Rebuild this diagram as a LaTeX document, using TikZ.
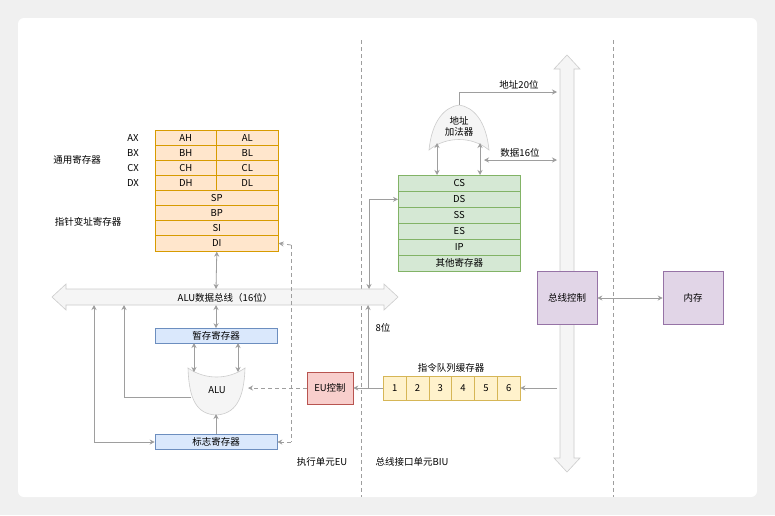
\documentclass[tikz,border=0pt]{standalone}
\usepackage{fontspec}
\setmainfont{Noto Sans CJK SC}
\usetikzlibrary{arrows.meta}
\definecolor{ln}{HTML}{9E9E9E}
\definecolor{orf}{HTML}{FFE6CC}\definecolor{ors}{HTML}{D79B00}
\definecolor{grf}{HTML}{D5E8D4}\definecolor{grs}{HTML}{82B366}
\definecolor{blf}{HTML}{DAE8FC}\definecolor{bls}{HTML}{6C8EBF}
\definecolor{puf}{HTML}{E1D5E7}\definecolor{pus}{HTML}{9673A6}
\definecolor{ref}{HTML}{F8CECC}\definecolor{res}{HTML}{B85450}
\definecolor{yef}{HTML}{FFF2CC}\definecolor{yes}{HTML}{D6B656}
\definecolor{shf}{HTML}{F5F5F5}\definecolor{shs}{HTML}{CCCCCC}
\tikzset{
 conn/.style={draw=ln,line width=0.8pt,-{Stealth[length=5pt,width=5pt]}},
 bi/.style={conn,{Stealth[length=5pt,width=5pt]}-{Stealth[length=5pt,width=5pt]}},
 dconn/.style={conn,dashed,dash pattern=on 4pt off 3pt},
 lbl/.style={font=\fontsize{9.5}{11}\selectfont,inner sep=0pt},
 reg/.style={draw=#1,line width=0.6pt,minimum height=0pt,inner sep=0pt,font=\fontsize{9.5}{11}\selectfont},
}
\begin{document}
\begin{tikzpicture}[x=1pt,y=-1pt]
\fill[black!6] (0,0) rectangle (775,515);
\useasboundingbox (0,0) rectangle (775,515);
\fill[white,rounded corners=6pt] (18,18) rectangle (757,497);
% dividers
\draw[ln,dashed,dash pattern=on 4pt off 3pt,line width=0.7pt] (361,40)--(361,497);
\draw[ln,dashed,dash pattern=on 4pt off 3pt,line width=0.7pt] (613,40)--(613,497);
% bus arrows
\draw[shs,fill=shf,line width=0.6pt] (52,297)--(66,284)--(66,289)--(384,289)--(384,284)--(398,297)--(384,310)--(384,305)--(66,305)--(66,310)--cycle;
\node[lbl] (bus) at (225,298) {ALU数据总线（16位）};
\coordinate (busT) at (216,289);
\draw[shs,fill=shf,line width=0.6pt] (567,55)--(580,69)--(574,69)--(574,458)--(580,458)--(567,472)--(554,458)--(560,458)--(560,69)--(554,69)--cycle;
% orange registers
\foreach \t/\y in {AH/130,BH/145,CH/160,DH/175}{\node[reg=ors,fill=orf,minimum width=61pt,minimum height=15pt,anchor=north west] at (155,\y) {\t};}
\foreach \t/\y in {AL/130,BL/145,CL/160,DL/175}{\node[reg=ors,fill=orf,minimum width=62pt,minimum height=15pt,anchor=north west] at (216,\y) {\t};}
\foreach \t/\y in {SP/190,BP/205,SI/220}{\node[reg=ors,fill=orf,minimum width=123pt,minimum height=15pt,anchor=north west] at (155,\y) {\t};}
\node[reg=ors,fill=orf,minimum width=123pt,minimum height=16pt,anchor=north west] (DI) at (155,235) {DI};
\foreach \t/\y in {AX/138,BX/153,CX/168,DX/183}{\node[lbl] at (133,\y) {\t};}
\node[lbl] at (77,160) {通用寄存器};
\node[lbl] at (88,222) {指针变址寄存器};
\draw[bi] (DI.south) -- (busT);
% green
\foreach \t/\y/\n in {CS/175/CS,DS/191/DS,SS/207/SS,ES/223/ES,IP/239/IP,其他寄存器/255/OT}{\node[reg=grs,fill=grf,minimum width=122pt,minimum height=16pt,anchor=north west] (\n) at (398,\y) {\t};}
% adder
\draw[shs,fill=shf,line width=0.6pt] (429,150) .. controls (432,120) and (445,107) .. (459,105) .. controls (473,107) and (486,120) .. (489,150) .. controls (472,136) and (446,136) .. cycle;
\node[lbl,align=center] (add) at (459,126) {地址\\加法器};
\coordinate (addT) at (459,105);
\coordinate (a20) at (557,92);
\draw[conn] (addT) |- (a20);
\node[lbl] at (519,85) {地址20位};
\draw[bi] (437,143) -- (437,175);
\draw[bi] (480,143) -- (480,175);
\draw[bi] (484,160) -- (557,160);
\node[lbl] at (520,153) {数据16位};
\draw[bi] (DS.west) -| (369,289);
% purple
\node[reg=pus,fill=puf,minimum width=60pt,minimum height=53pt] (bc) at (567,298) {总线控制};
\node[reg=pus,fill=puf,minimum width=60pt,minimum height=53pt] (mem) at (693,298) {内存};
\draw[bi] (bc) -- (mem);
% queue
\node[lbl] at (451,368) {指令队列缓存器};
\foreach \i in {1,...,6}{\node[reg=yes,fill=yef,minimum width=22.8pt,minimum height=24pt,anchor=west] (q\i) at ({383+(\i-1)*22.8},388) {\i};}
\coordinate (bq) at (557,388);
\draw[conn] (bq) -- (q6.east);
\node[reg=res,fill=ref,minimum width=46pt,minimum height=32pt] (eu) at (330,388) {EU控制};
\draw[conn] (q1.west) -- (eu.east);
\draw[conn] (368,388) -- (368,305);
\node[lbl] at (383,328) {8位};
% temp register
\node[reg=bls,fill=blf,minimum width=122pt,minimum height=15pt] (tmp) at (216,336) {暂存寄存器};
\draw[bi] (216,305) -- (tmp.north);
% ALU
\draw[shs,fill=shf,line width=0.6pt] (188,368) .. controls (205,380) and (228,380) .. (245,368) .. controls (244,400) and (235,414) .. (216,415) .. controls (197,414) and (189,400) .. cycle;
\node[lbl] (alu) at (217,390) {ALU};
\draw[bi] (194,343) -- (194,372);
\draw[bi] (238,343) -- (238,372);
\node[reg=bls,fill=blf,minimum width=122pt,minimum height=15pt] (flag) at (216,442) {标志寄存器};
\draw[conn] (flag.north) -- (216,414);
\draw[conn] (191,397) -| (124,305);
\draw[bi] (flag.west) -| (94,305);
% dashed control
\draw[dconn] (eu.west) -- (248,388);
\draw[ln,dashed,dash pattern=on 4pt off 3pt,line width=0.8pt] (291,245) -- (291,442);
\draw[dconn] (291,245) -- (DI.east);
\draw[dconn] (291,442) -- (flag.east);
\node[lbl] at (322,462) {执行单元EU};
\node[lbl] at (412,462) {总线接口单元BIU};
\end{tikzpicture}
\end{document}
